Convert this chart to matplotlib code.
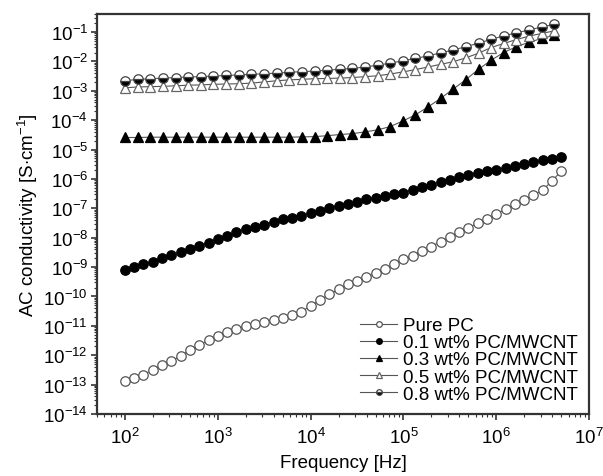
import matplotlib
matplotlib.use('Agg')
import matplotlib.pyplot as plt
from matplotlib.ticker import LogLocator, NullFormatter
import numpy as np

plt.rcParams['font.family'] = ['Liberation Sans', 'DejaVu Sans']
plt.rcParams['mathtext.fontset'] = 'custom'
plt.rcParams['mathtext.rm'] = 'Liberation Sans'
plt.rcParams['mathtext.it'] = 'Liberation Sans:italic'
plt.rcParams['mathtext.bf'] = 'Liberation Sans:bold'

# frequency sweeps [Hz]
freq_a = [100, 126, 158, 200, 251, 316, 398, 501, 631, 794,
          1000, 1259, 1585, 1995, 2512, 3162, 3981, 5012, 6310, 7943,
          1.0e4, 1.26e4, 1.58e4, 2.0e4, 2.51e4, 3.16e4, 3.98e4, 5.01e4, 6.31e4, 7.94e4,
          1.0e5, 1.26e5, 1.58e5, 2.0e5, 2.51e5, 3.16e5, 3.98e5, 5.01e5, 6.31e5, 7.94e5,
          1.0e6, 1.26e6, 1.58e6, 2.0e6, 2.51e6, 3.16e6, 3.98e6, 5.01e6]
freq_b = [100, 137, 187, 256, 350, 479, 655, 895, 1224, 1675,
          2291, 3133, 4285, 5861, 8017, 1.10e4, 1.50e4, 2.05e4, 2.81e4, 3.84e4,
          5.25e4, 7.18e4, 9.82e4, 1.34e5, 1.84e5, 2.51e5, 3.44e5, 4.70e5, 6.43e5, 8.79e5,
          1.20e6, 1.64e6, 2.25e6, 3.08e6, 4.21e6]

# log10 of AC conductivity [S/cm]
pure_pc = [-12.89, -12.78, -12.66, -12.49, -12.33, -12.20, -12.02, -11.83, -11.66, -11.49,
           -11.36, -11.20, -11.10, -11.01, -10.93, -10.86, -10.79, -10.73, -10.64, -10.52,
           -10.32, -10.13, -9.93, -9.75, -9.59, -9.46, -9.34, -9.20, -9.07, -8.90,
           -8.74, -8.61, -8.45, -8.30, -8.13, -7.98, -7.82, -7.67, -7.50, -7.36,
           -7.19, -7.04, -6.87, -6.72, -6.55, -6.37, -6.08, -5.72]
cnt_01 = [-9.10, -9.01, -8.90, -8.82, -8.68, -8.60, -8.50, -8.40, -8.28, -8.18,
          -8.04, -7.93, -7.80, -7.71, -7.63, -7.56, -7.47, -7.38, -7.32, -7.25,
          -7.16, -7.08, -6.99, -6.92, -6.85, -6.77, -6.70, -6.64, -6.58, -6.53,
          -6.47, -6.37, -6.27, -6.19, -6.10, -6.02, -5.94, -5.86, -5.80, -5.74,
          -5.69, -5.62, -5.55, -5.48, -5.42, -5.36, -5.31, -5.27]
cnt_03 = [-4.59, -4.59, -4.58, -4.58, -4.58, -4.58, -4.58, -4.58, -4.58, -4.58,
          -4.58, -4.58, -4.58, -4.58, -4.57, -4.56, -4.53, -4.49, -4.46, -4.40,
          -4.33, -4.22, -4.03, -3.82, -3.55, -3.26, -2.94, -2.62, -2.27, -1.96,
          -1.70, -1.50, -1.35, -1.22, -1.11]
cnt_05 = [-2.90, -2.87, -2.86, -2.85, -2.83, -2.81, -2.80, -2.78, -2.77, -2.76,
          -2.74, -2.70, -2.66, -2.63, -2.61, -2.59, -2.58, -2.57, -2.55, -2.52,
          -2.49, -2.43, -2.36, -2.28, -2.19, -2.10, -2.01, -1.88, -1.72, -1.53,
          -1.39, -1.26, -1.14, -1.05, -0.96]
cnt_08 = [-2.66, -2.61, -2.59, -2.57, -2.55, -2.53, -2.52, -2.50, -2.48, -2.46,
          -2.44, -2.42, -2.40, -2.37, -2.35, -2.33, -2.30, -2.27, -2.24, -2.19,
          -2.13, -2.06, -1.98, -1.90, -1.81, -1.71, -1.61, -1.50, -1.38, -1.25,
          -1.13, -1.03, -0.93, -0.83, -0.74]

labels = ['Pure PC', '0.1 wt% PC/MWCNT', '0.3 wt% PC/MWCNT',
          '0.5 wt% PC/MWCNT', '0.8 wt% PC/MWCNT']

fig = plt.figure(figsize=(6.03, 4.77), dpi=100)
ax = fig.add_axes([0.161, 0.130, 0.816, 0.839])

line_kw = dict(color='#555555', lw=0.8, ms=6.8, mew=0.9)
ax.plot(freq_a, 10 ** np.array(pure_pc), marker='o', mfc='white', mec='#555555',
        label=labels[0], **line_kw)
ax.plot(freq_a, 10 ** np.array(cnt_01), marker='o', mfc='black', mec='black',
        label=labels[1], **line_kw)
ax.plot(freq_b, 10 ** np.array(cnt_03), marker='^', mfc='black', mec='black',
        label=labels[2], **line_kw)
ax.plot(freq_b, 10 ** np.array(cnt_05), marker='^', mfc='white', mec='#666666',
        label=labels[3], **line_kw)
ax.plot(freq_b, 10 ** np.array(cnt_08), marker='o', fillstyle='bottom', mfc='black',
        mfcalt='white', mec='#444444', label=labels[4], **line_kw)

ax.set_xscale('log')
ax.set_yscale('log')
ax.set_xlim(50, 1e7)
ax.set_ylim(1e-14, 10 ** -0.38)

ax.xaxis.set_major_locator(LogLocator(base=10, numticks=20))
ax.xaxis.set_minor_locator(LogLocator(base=10, subs=np.arange(2, 10), numticks=20))
ax.yaxis.set_major_locator(LogLocator(base=10, numticks=30))
ax.yaxis.set_minor_locator(LogLocator(base=10, subs=np.arange(2, 10), numticks=30))
ax.xaxis.set_minor_formatter(NullFormatter())
ax.yaxis.set_minor_formatter(NullFormatter())

for sp in ax.spines.values():
    sp.set_linewidth(1.6)
    sp.set_color('#333333')
ax.tick_params(which='both', direction='out', top=False, right=False,
               color='#333333', labelsize=13.5, pad=2)
ax.tick_params(axis='x', which='major', pad=5)
ax.tick_params(which='major', length=4.5, width=1.2)
ax.tick_params(which='minor', length=2.5, width=0.8)

ax.set_xlabel('Frequency [Hz]', fontsize=13.5, labelpad=5)
ax.set_ylabel('AC conductivity [S$\\cdot$cm$^{-1}$]', fontsize=13.5, labelpad=2)

ax.legend(loc='lower right', frameon=False, fontsize=13.5, markerscale=0.6,
          handlelength=2.0, handletextpad=0.3, labelspacing=0.0,
          borderaxespad=0.2)

fig.savefig('out.png', dpi=100)
